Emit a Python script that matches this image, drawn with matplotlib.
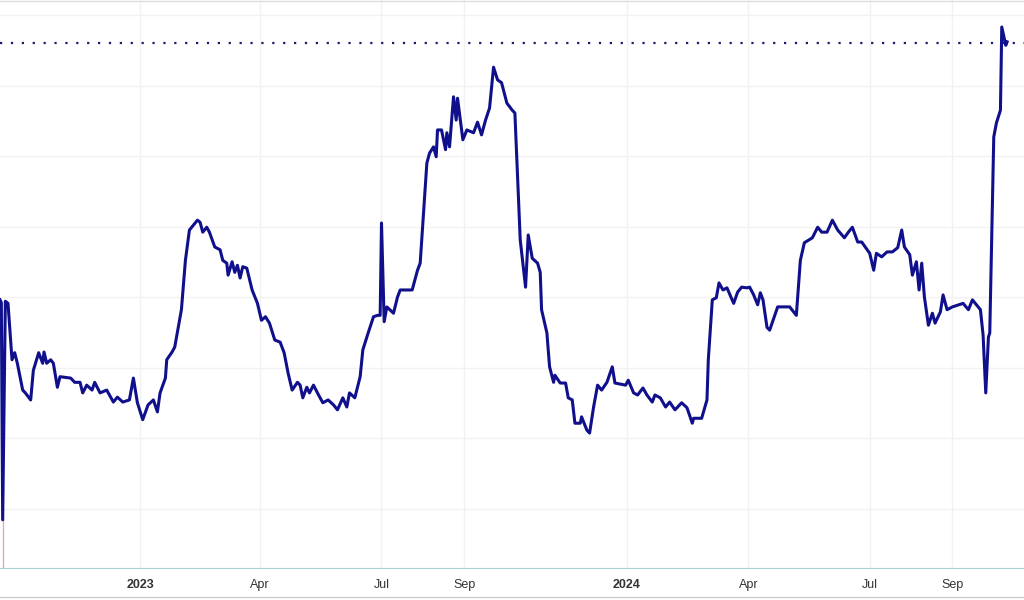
import matplotlib
matplotlib.use("Agg")
import matplotlib.pyplot as plt
from matplotlib.lines import Line2D
import pandas as pd

dates = [
    "2022-09-18", "2022-09-19", "2022-09-20", "2022-09-22", "2022-09-24", "2022-09-27", "2022-09-29",
    "2022-10-01", "2022-10-05", "2022-10-07", "2022-10-11", "2022-10-13", "2022-10-17", "2022-10-20",
    "2022-10-21", "2022-10-23", "2022-10-26", "2022-10-28", "2022-10-31", "2022-11-02", "2022-11-10",
    "2022-11-13", "2022-11-17", "2022-11-19", "2022-11-22", "2022-11-26", "2022-11-28", "2022-12-02",
    "2022-12-07", "2022-12-12", "2022-12-15", "2022-12-19", "2022-12-24", "2022-12-27", "2022-12-30",
    "2023-01-03", "2023-01-07", "2023-01-11", "2023-01-14", "2023-01-16", "2023-01-20", "2023-01-21",
    "2023-01-25", "2023-01-27", "2023-02-01", "2023-02-04", "2023-02-07", "2023-02-13", "2023-02-15",
    "2023-02-17", "2023-02-20", "2023-02-22", "2023-02-26", "2023-03-02", "2023-03-04", "2023-03-07",
    "2023-03-08", "2023-03-11", "2023-03-13", "2023-03-15", "2023-03-17", "2023-03-19", "2023-03-22",
    "2023-03-26", "2023-03-30", "2023-04-02", "2023-04-05", "2023-04-08", "2023-04-12", "2023-04-16",
    "2023-04-19", "2023-04-22", "2023-04-25", "2023-04-29", "2023-05-01", "2023-05-03", "2023-05-06",
    "2023-05-08", "2023-05-11", "2023-05-14", "2023-05-18", "2023-05-22", "2023-05-26", "2023-05-29",
    "2023-06-02", "2023-06-05", "2023-06-07", "2023-06-11", "2023-06-15", "2023-06-17", "2023-06-21",
    "2023-06-25", "2023-06-28", "2023-06-30", "2023-07-01", "2023-07-03", "2023-07-05", "2023-07-10",
    "2023-07-13", "2023-07-15", "2023-07-24", "2023-07-28", "2023-07-30", "2023-08-01", "2023-08-04",
    "2023-08-06", "2023-08-09", "2023-08-11", "2023-08-12", "2023-08-15", "2023-08-18", "2023-08-19",
    "2023-08-21", "2023-08-24", "2023-08-26", "2023-08-27", "2023-08-31", "2023-09-03", "2023-09-08",
    "2023-09-11", "2023-09-14", "2023-09-17", "2023-09-20", "2023-09-23", "2023-09-26", "2023-09-29",
    "2023-10-03", "2023-10-07", "2023-10-09", "2023-10-13", "2023-10-17", "2023-10-19", "2023-10-22",
    "2023-10-26", "2023-10-28", "2023-10-29", "2023-11-02", "2023-11-04", "2023-11-07", "2023-11-08",
    "2023-11-12", "2023-11-16", "2023-11-18", "2023-11-21", "2023-11-23", "2023-11-27", "2023-11-28",
    "2023-12-02", "2023-12-04", "2023-12-07", "2023-12-10", "2023-12-13", "2023-12-17", "2023-12-21",
    "2023-12-23", "2023-12-31", "2024-01-02", "2024-01-06", "2024-01-09", "2024-01-13", "2024-01-16",
    "2024-01-20", "2024-01-22", "2024-01-26", "2024-01-30", "2024-02-02", "2024-02-06", "2024-02-11",
    "2024-02-15", "2024-02-19", "2024-02-20", "2024-02-26", "2024-03-01", "2024-03-02", "2024-03-05",
    "2024-03-08", "2024-03-10", "2024-03-13", "2024-03-16", "2024-03-21", "2024-03-24", "2024-03-27",
    "2024-03-31", "2024-04-02", "2024-04-05", "2024-04-08", "2024-04-10", "2024-04-12", "2024-04-15",
    "2024-04-17", "2024-04-23", "2024-05-02", "2024-05-07", "2024-05-10", "2024-05-13", "2024-05-19",
    "2024-05-23", "2024-05-26", "2024-05-30", "2024-06-03", "2024-06-07", "2024-06-12", "2024-06-15",
    "2024-06-18", "2024-06-22", "2024-06-25", "2024-07-01", "2024-07-04", "2024-07-06", "2024-07-10",
    "2024-07-14", "2024-07-18", "2024-07-22", "2024-07-25", "2024-07-27", "2024-07-31", "2024-08-02",
    "2024-08-05", "2024-08-07", "2024-08-09", "2024-08-11", "2024-08-14", "2024-08-17", "2024-08-19",
    "2024-08-23", "2024-08-25", "2024-08-28", "2024-09-01", "2024-09-09", "2024-09-13", "2024-09-16",
    "2024-09-22", "2024-09-24", "2024-09-26", "2024-09-28", "2024-09-29", "2024-10-02", "2024-10-04",
    "2024-10-07", "2024-10-08", "2024-10-11", "2024-10-12",
]
values = [
    39.6, 39.2, 8.4, 39.4, 39.1, 31.1, 32.1,
    30.6, 26.8, 26.4, 25.4, 29.6, 32.1, 30.6,
    32.2, 30.6, 31.1, 30.6, 27.2, 28.7, 28.5,
    27.9, 27.9, 26.4, 27.5, 26.8, 27.9, 26.4,
    26.8, 25.1, 25.8, 25.1, 25.4, 28.5, 25.0,
    22.6, 24.7, 25.4, 23.7, 26.4, 28.5, 31.1,
    32.2, 32.9, 38.2, 45.2, 49.5, 50.9, 50.6,
    49.2, 49.9, 49.2, 47.1, 46.7, 45.2, 44.8,
    43.1, 45.0, 43.5, 44.5, 42.7, 44.3, 44.1,
    41.0, 39.1, 36.7, 37.2, 36.3, 33.9, 33.6,
    32.1, 29.2, 26.8, 27.9, 27.5, 25.7, 27.2,
    26.4, 27.5, 26.4, 25.0, 25.4, 24.7, 24.0,
    25.7, 24.4, 26.4, 25.7, 28.7, 32.5, 34.9,
    37.2, 37.4, 37.4, 50.5, 36.5, 38.6, 37.7,
    40.0, 41.0, 41.0, 43.8, 44.8, 50.5, 59.0,
    60.4, 61.3, 59.9, 63.7, 63.7, 60.9, 63.3,
    61.3, 68.4, 65.1, 68.2, 62.3, 63.7, 63.3,
    64.8, 63.0, 65.1, 66.8, 72.6, 70.8, 70.4,
    67.5, 66.5, 66.1, 48.1, 41.4, 48.8, 45.5,
    44.8, 43.5, 38.2, 34.9, 30.1, 27.9, 28.9,
    27.8, 27.8, 25.7, 25.4, 22.1, 22.1, 23.0,
    21.1, 20.7, 24.4, 27.5, 26.8, 27.9, 30.1,
    27.8, 27.5, 28.2, 26.4, 26.1, 27.1, 26.1,
    25.1, 26.1, 25.7, 24.4, 25.1, 24.0, 25.0,
    24.3, 22.1, 22.8, 22.8, 25.4, 31.1, 39.6,
    39.9, 42.0, 41.0, 41.3, 39.1, 40.7, 41.4,
    41.3, 41.4, 40.3, 38.9, 40.6, 39.6, 35.7,
    35.3, 38.6, 38.6, 37.4, 45.2, 47.7, 48.4,
    49.9, 49.2, 49.2, 50.9, 49.5, 48.4, 49.2,
    49.9, 47.8, 47.8, 46.2, 43.8, 46.2, 45.7,
    46.4, 46.4, 47.0, 49.5, 47.1, 46.0, 43.1,
    45.0, 41.0, 44.8, 40.0, 36.0, 37.7, 36.3,
    37.9, 40.3, 38.2, 38.6, 39.1, 38.2, 39.6,
    38.2, 34.6, 26.4, 34.3, 34.9, 62.7, 64.7,
    66.5, 78.3, 75.7, 76.2,
]
reference_level = 76.0
tick_dates = ["2023-01-01", "2023-04-01", "2023-07-01", "2023-09-01",
              "2024-01-01", "2024-04-01", "2024-07-01", "2024-09-01"]
tick_labels = ["2023", "Apr", "Jul", "Sep", "2024", "Apr", "Jul", "Sep"]
y_grid = [10, 20, 30, 40, 50, 60, 70, 80]

x = pd.to_datetime(dates)
ticks = pd.to_datetime(tick_dates)

fig = plt.figure(figsize=(10.24, 6.0), dpi=100)
ax = fig.add_axes([0.0, 0.0533, 1.0, 0.9467])

ax.set_xlim(pd.Timestamp("2022-09-18"), pd.Timestamp("2024-10-24 16:00"))
ax.set_ylim(1.56, 82.13)

ax.set_yticks(y_grid)
ax.set_xticks(ticks)
ax.set_xticklabels(tick_labels)
ax.grid(True, color="#f2f2f2", linewidth=1.0)
ax.set_axisbelow(True)
ax.tick_params(axis="y", left=False, labelleft=False)
ax.tick_params(axis="x", length=0, pad=8, labelsize=9, labelcolor="#333333")
for lbl in ax.get_xticklabels():
    lbl.set_fontfamily("Liberation Sans")
    if lbl.get_text() in ("2023", "2024"):
        lbl.set_fontweight("bold")

for s in ("top", "left", "right"):
    ax.spines[s].set_visible(False)
ax.spines["bottom"].set_color("#a9d3d2")
ax.spines["bottom"].set_linestyle((0, (2, 1)))
ax.spines["bottom"].set_linewidth(0.8)

# thin pink marker below the initial drop
ax.plot([x[2], x[2]], [1.56, values[2]], color="#e8a8b4", linewidth=1.0, zorder=2)

ax.plot(x, values, color="#10108c", linewidth=2.2, solid_joinstyle="round", zorder=3)
ax.axhline(reference_level, color="#1c1c6e", linewidth=1.6, linestyle=(0, (1, 3.9)), zorder=2)

fig.add_artist(Line2D([0, 1], [0.998, 0.998], transform=fig.transFigure, color="#dddddd", linewidth=1.0))
fig.add_artist(Line2D([0, 1], [0.005, 0.005], transform=fig.transFigure, color="#cccccc", linewidth=1.0))

fig.savefig("out.png", dpi=100)
